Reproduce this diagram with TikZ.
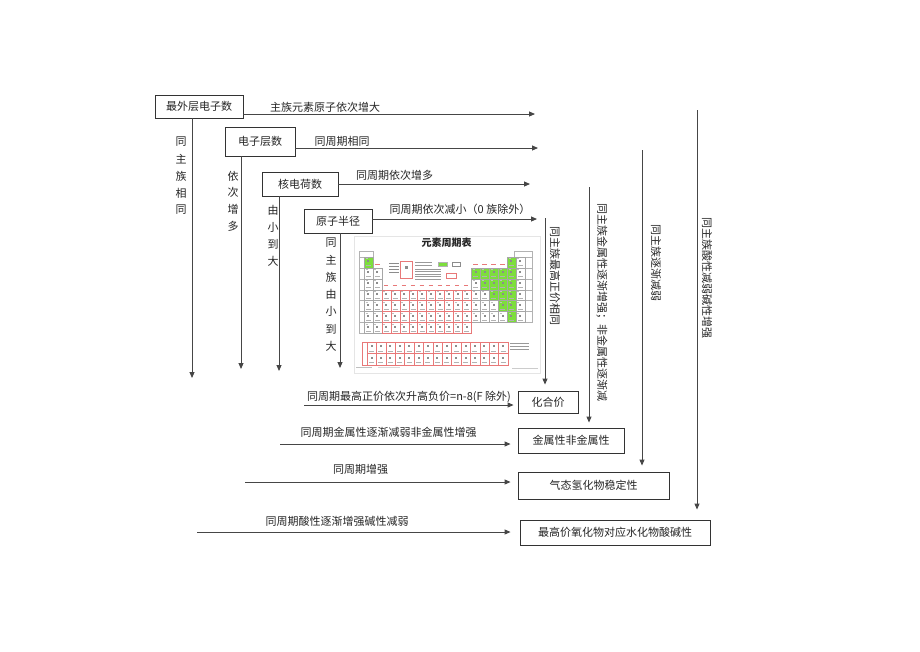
\documentclass[tikz,border=0pt]{standalone}
\usepackage{fontspec}
\setmainfont{Noto Sans CJK SC}
\usetikzlibrary{arrows.meta}
\definecolor{ln}{RGB}{70,70,70}
\definecolor{pgreen}{RGB}{125,222,60}
\definecolor{pred}{RGB}{232,120,120}
\newcommand\ptcell[4]{%
  \pgfmathsetmacro\cx{364+(#1-1)*8.94}%
  \pgfmathsetmacro\cy{257+(#2-1)*10.9}%
  \filldraw[fill=#3,draw=#4,line width=0.3pt] (\cx,\cy) rectangle ++(8.94,10.9);
  \fill[black!45] ({\cx+3.4},{\cy+3.2}) rectangle ++(2,2);
  \draw[black!30,line width=0.3pt] ({\cx+2},{\cy+8.3}) -- ++(5,0);
  \draw[black!25,line width=0.3pt] ({\cx+1.5},{\cy+1.6}) -- ++(2,0);
}
\begin{document}
\begin{tikzpicture}[x=1pt,y=-1pt,
  every node/.style={font=\fontsize{11}{13}\selectfont, text=black!85, inner sep=0pt},
  bx/.style={draw=black!80, line width=0.9pt},
  arr/.style={draw=ln, line width=0.9pt, -{Triangle[length=6pt,width=5pt]}},
  vtext/.style={rotate=-90}]
\fill[white] (0,0) rectangle (920,651);
\useasboundingbox (0,0) rectangle (920,651);

% ---- top boxes ----
\node[bx, minimum width=88pt, minimum height=23pt] (b1) at (199,106.5) {最外层电子数};
\node[bx, minimum width=70pt, minimum height=29pt] (b2) at (260,141.5) {电子层数};
\node[bx, minimum width=76pt, minimum height=24pt] (b3) at (300,184) {核电荷数};
\node[bx, minimum width=68pt, minimum height=24pt] (b4) at (338,221) {原子半径};

% horizontal arrows from top boxes
\coordinate (e1) at (535,114);
\coordinate (e2) at (538,148);
\coordinate (e3) at (530,184);
\coordinate (e4) at (537,219);
\draw[arr] ([yshift=-7.5pt]b1.east) -- (e1);
\draw[arr] ([yshift=-6.5pt]b2.east) -- (e2);
\draw[arr] (b3.east) -- (e3);
\draw[arr] ([yshift=2pt]b4.east) -- (e4);
\node (l1) at (325,107.5) {主族元素原子依次增大};
\node (l2) at (342,141.5) {同周期相同};
\node (l3) at (394.5,175) {同周期依次增多};
\node (l4) at (460,209) {同周期依次减小（0 族除外）};

% vertical arrows down from top boxes
\coordinate (d1) at (192,378);
\coordinate (d2) at (241,369);
\coordinate (d3) at (279,371);
\coordinate (d4) at (340,368);
\draw[arr] (b1.south -| d1) -- (d1);
\draw[arr] (b2.south -| d2) -- (d2);
\draw[arr] (b3.south -| d3) -- (d3);
\draw[arr] (b4.south -| d4) -- (d4);
\foreach \c [count=\i] in {同,主,族,相,同}
  \node (sa\i) at (181,{142+17*(\i-1)}) {\c};
\foreach \c [count=\i] in {依,次,增,多}
  \node (sb\i) at (233,{176+16.8*(\i-1)}) {\c};
\foreach \c [count=\i] in {由,小,到,大}
  \node (sc\i) at (273,{210+17*(\i-1)}) {\c};
\foreach \c [count=\i] in {同,主,族,由,小,到,大}
  \node (sd\i) at (331,{243+17.2*(\i-1)}) {\c};

% ---- periodic table picture ----
\draw[black!10,line width=0.4pt] (354,236) rectangle (540,373);
\node[font=\fontsize{10}{12}\selectfont\bfseries] (ptt) at (446.5,243) {元素周期表};
% header strip
\draw[black!30,line width=0.3pt] (359,251) rectangle (373,257);
\draw[black!30,line width=0.3pt] (514,251) rectangle (532,257);
% period number column and right column
\foreach \r in {1,...,7}
  \draw[black!30,line width=0.3pt] (359,{257+(\r-1)*10.9}) rectangle ++(5,10.9);
\foreach \r in {1,...,6}
  \draw[black!30,line width=0.3pt] (525,{257+(\r-1)*10.9}) rectangle ++(7,10.9);
% row 1
\ptcell{1}{1}{pgreen}{black!35}
\ptcell{17}{1}{pgreen}{black!35}
\ptcell{18}{1}{white}{black!35}
\foreach \c in {2,13,14,15,16}
  \draw[pred,line width=0.3pt] ({364+(\c-1)*8.94+2},264) -- ++(5,0);
% rows 2-7 main groups
\foreach \r in {2,...,7} {\ptcell{1}{\r}{white}{black!35}\ptcell{2}{\r}{white}{black!35}}
\foreach \c in {13,...,17} {\ptcell{\c}{2}{pgreen}{black!35}}
\ptcell{13}{3}{white}{black!35}
\foreach \c in {14,...,17} {\ptcell{\c}{3}{pgreen}{black!35}}
\foreach \c in {13,14} {\ptcell{\c}{4}{white}{black!35}}
\foreach \c in {15,16,17} {\ptcell{\c}{4}{pgreen}{black!35}}
\foreach \c in {13,14,15} {\ptcell{\c}{5}{white}{black!35}}
\foreach \c in {16,17} {\ptcell{\c}{5}{pgreen}{black!35}}
\foreach \c in {13,...,16} {\ptcell{\c}{6}{white}{black!35}}
\ptcell{17}{6}{pgreen}{black!35}
\foreach \r in {2,...,6} {\ptcell{18}{\r}{white}{black!35}}
% transition metals
\foreach \r in {4,...,7} {\foreach \c in {3,...,12} {\ptcell{\c}{\r}{white}{pred}}}
\foreach \c in {3,...,12}
  \draw[pred,line width=0.5pt] ({364+(\c-1)*8.94+2},285) -- ++(4,0);
% legend in the gap
\foreach \y in {263,266,269,272}
  \draw[black!45,line width=0.4pt] (389,\y) -- (399,\y);
\draw[pred,line width=0.4pt] (400.5,261) rectangle (412.5,278);
\fill[black!45] (405,266) rectangle (408,269);
\foreach \y in {262,265}
  \draw[black!40,line width=0.4pt] (415,\y) -- (432,\y);
\filldraw[fill=pgreen,draw=black!30,line width=0.3pt] (438,262.5) rectangle (447.5,266.5);
\draw[black!45,line width=0.3pt] (452,262.5) rectangle (460,266.5);
\foreach \y in {269,271.5,274,276.5,279}
  \draw[black!40,line width=0.4pt] (415,\y) -- (441,\y);
\draw[pred,line width=0.4pt] (446,273) rectangle (456,278);
% lanthanides / actinides
\draw[pred,line width=0.4pt] (362,342) rectangle (508,365);
\foreach \r in {0,1}
  \foreach \c in {0,...,14} {
    \pgfmathsetmacro\lx{367+\c*9.4}
    \pgfmathsetmacro\ly{342+\r*11.5}
    \draw[pred,line width=0.3pt] (\lx,\ly) rectangle ++(9.4,11.5);
    \fill[black!45] ({\lx+3.6},{\ly+3.3}) rectangle ++(2,2);
    \draw[black!30,line width=0.3pt] ({\lx+2},{\ly+9}) -- ++(5,0);
  }
\foreach \y in {343,346,349}
  \draw[black!40,line width=0.4pt] (510,\y) -- (529,\y);
\draw[black!25,line width=0.4pt] (356,367) -- (372,367);
\draw[black!15,line width=0.4pt] (378,367) -- (400,367);
\draw[black!20,line width=0.4pt] (512,368) -- (538,368);

% ---- bottom boxes ----
\node[bx, minimum width=60pt, minimum height=22pt] (hj) at (548,402) {化合价};
\node[bx, minimum width=106pt, minimum height=25pt] (js) at (571,440.5) {金属性非金属性};
\node[bx, minimum width=151pt, minimum height=27pt] (qt) at (593.5,485.5) {气态氢化物稳定性};
\node[bx, minimum width=190pt, minimum height=25pt] (zg) at (615,532.5) {最高价氧化物对应水化物酸碱性};

% horizontal arrows into bottom boxes
\coordinate (f1) at (304,405);
\coordinate (f2) at (280,444);
\coordinate (f3) at (245,482);
\coordinate (f4) at (197,532);
\draw[arr] (f1) -- ([xshift=-4pt,yshift=-3pt]hj.west);
\draw[arr] (f2) -- ([xshift=-7pt,yshift=-3.5pt]js.west);
\draw[arr] (f3) -- ([xshift=-7pt,yshift=3.5pt]qt.west);
\draw[arr] (f4) -- ([xshift=-9pt,yshift=0.5pt]zg.west);
\node (l5) at (409,396.5) {同周期最高正价依次升高负价=n-8(F 除外)};
\node (l6) at (388.5,432.5) {同周期金属性逐渐减弱非金属性增强};
\node (l7) at (360.7,469) {同周期增强};
\node (l8) at (337,521) {同周期酸性逐渐增强碱性减弱};

% right vertical arrows
\coordinate (r1) at (545,218);
\coordinate (r2) at (589,187);
\coordinate (r3) at (642,150);
\coordinate (r4) at (697,110);
\draw[arr] (r1) -- ([yshift=6pt]hj.north -| r1);
\draw[arr] (r2) -- ([yshift=5pt]js.north -| r2);
\draw[arr] (r3) -- ([yshift=6pt]qt.north -| r3);
\draw[arr] (r4) -- ([yshift=10pt]zg.north -| r4);
\node[vtext] (t1) at (555,276) {同主族最高正价相同};
\node[vtext] (t2) at (602,302) {同主族金属性逐渐增强；非金属性逐渐减};
\node[vtext] (t3) at (656,262.5) {同主族逐渐减弱};
\node[vtext] (t4) at (707,277.5) {同主族酸性减弱碱性增强};
\end{tikzpicture}
\end{document}
